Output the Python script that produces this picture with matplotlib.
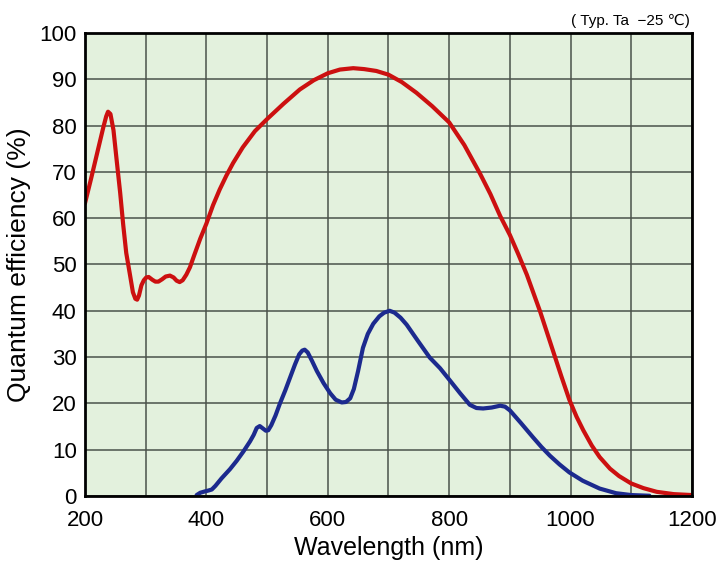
import matplotlib.pyplot as plt
from matplotlib.ticker import MultipleLocator

plt.rcParams['font.family'] = ['Liberation Sans', 'DejaVu Sans']

# red curve (upper)
red_nm = [200, 210, 220, 230, 235, 238, 242, 247, 252, 258, 263, 268, 274, 279,
          283, 286, 289, 293, 297, 301, 305, 311, 316, 321, 327, 333, 340, 346,
          351, 356, 361, 367, 373, 380, 390, 400, 411, 422, 433, 444, 460, 480,
          500, 527, 554, 577, 600, 620, 642, 660, 680, 700, 722, 746, 772, 800,
          825, 851, 868, 884, 900, 914, 928, 950, 972, 985, 998, 1010, 1021,
          1035, 1048, 1065, 1080, 1100, 1120, 1142, 1170, 1200]
red_qe = [63.2, 68.5, 74, 79.5, 82, 83, 82.5, 79, 72.8, 65.5, 58.6, 52.5, 47.9,
          44, 42.6, 42.4, 43.3, 45.5, 46.6, 47.2, 47.3, 46.7, 46.3, 46.3, 46.8,
          47.4, 47.6, 47.2, 46.5, 46.2, 46.6, 47.8, 49.4, 52, 55.6, 58.8, 62.8,
          66.2, 69.2, 71.9, 75.3, 78.8, 81.4, 84.7, 87.8, 89.8, 91.3, 92.1, 92.4,
          92.2, 91.8, 91, 89.4, 87.1, 84.2, 80.7, 75.8, 69.6, 65.2, 60.5, 56.4,
          52.2, 47.8, 39.8, 31, 25.8, 20.8, 17.1, 14.2, 10.9, 8.4, 5.9, 4.3, 2.7,
          1.7, 0.9, 0.4, 0.2]

# blue curve (lower)
blue_nm = [384, 390, 398, 404, 409, 415, 425, 439, 450, 461, 472, 478, 483, 488,
           493, 498, 502, 507, 514, 521, 530, 538, 546, 553, 558, 562, 567, 574,
           582, 593, 604, 613, 623, 630, 637, 643, 650, 658, 666, 675, 685, 693,
           702, 710, 720, 730, 748, 768, 785, 801, 818, 834, 845, 856, 870, 884,
           892, 900, 918, 938, 952, 966, 982, 998, 1020, 1048, 1075, 1100, 1130]
blue_qe = [0.2, 0.7, 1.0, 1.2, 1.4, 2.2, 3.8, 5.8, 7.6, 9.6, 11.8, 13.2, 14.7,
           15.1, 14.6, 14.1, 14.2, 15.3, 17.4, 19.9, 22.8, 25.6, 28.4, 30.6,
           31.4, 31.6, 31, 29.2, 27, 24.4, 22.2, 20.8, 20.2, 20.3, 21.1, 23.1,
           27, 32, 35, 37.2, 38.8, 39.6, 40, 39.6, 38.5, 37, 33.6, 29.9, 27.6,
           25, 22.2, 19.7, 19, 18.9, 19.1, 19.5, 19.3, 18.5, 15.8, 12.7, 10.6,
           8.7, 6.8, 5.1, 3.3, 1.6, 0.6, 0.2, 0.05]

fig = plt.figure(figsize=(7.2, 5.64), dpi=100)
ax = fig.add_axes([0.118, 0.1206, 0.843, 0.8209])
ax.set_facecolor('#e3f1dd')

ax.plot(red_nm, red_qe, color='#cc1010', lw=3, solid_joinstyle='round', solid_capstyle='round', zorder=3)
ax.plot(blue_nm, blue_qe, color='#1c2a8e', lw=3, solid_joinstyle='round', solid_capstyle='round', zorder=3)

ax.set_xlim(200, 1200)
ax.set_ylim(0, 100)
ax.xaxis.set_major_locator(MultipleLocator(200))
ax.xaxis.set_minor_locator(MultipleLocator(100))
ax.yaxis.set_major_locator(MultipleLocator(10))
ax.grid(which='both', color='#4a524a', lw=1.1)
ax.tick_params(which='both', length=0, labelsize=16)
ax.tick_params(axis='x', pad=10)
ax.tick_params(axis='y', pad=6)

for s in ax.spines.values():
    s.set_linewidth(2)
    s.set_zorder(4)

ax.set_xlabel('Wavelength (nm)', fontsize=18, labelpad=4)
ax.set_ylabel('Quantum efficiency (%)', fontsize=19, labelpad=6)
fig.text(0.958, 0.962, '( Typ. Ta  \u221225 \u2103)', ha='right', va='center', fontsize=11)

fig.savefig('out.png', dpi=100)
